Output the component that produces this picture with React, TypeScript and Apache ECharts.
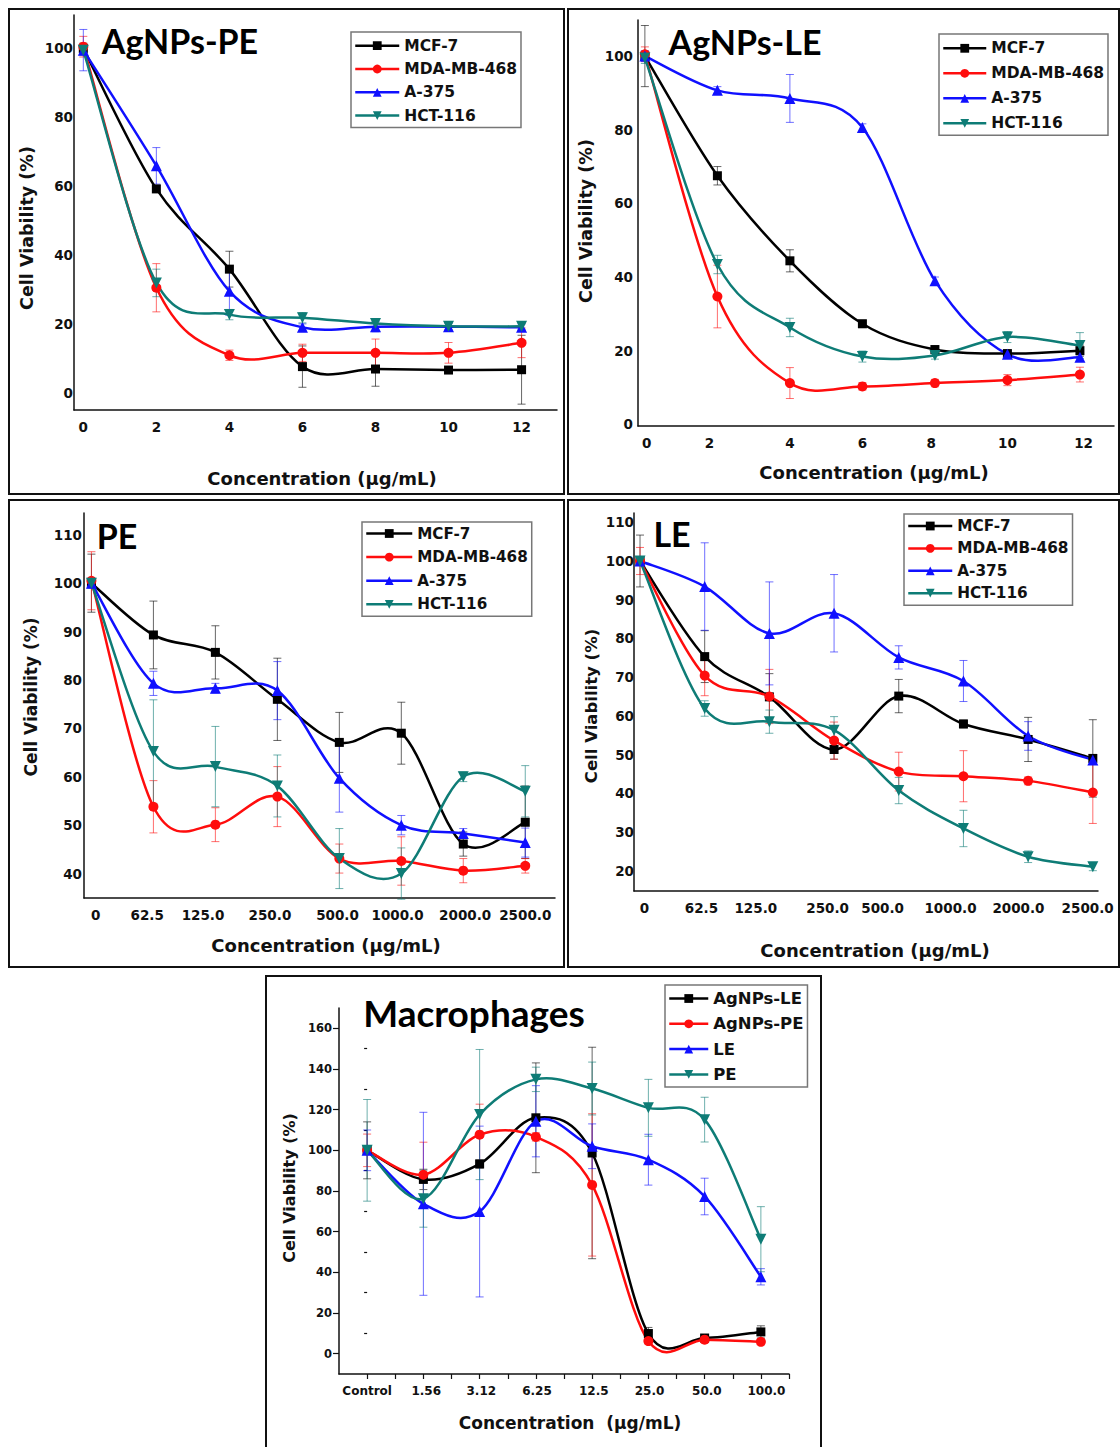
import React, { useEffect, useRef } from "react";
import * as echarts from "echarts";

// ---------------- DATA ----------------
const cellLines = ["MCF-7", "MDA-MB-468", "A-375", "HCT-116"];
const macroNames = ["AgNPs-LE", "AgNPs-PE", "LE", "PE"];

// Panel: AgNPs-PE
const agpeX = [0, 2, 4, 6, 8, 10, 12];
const agpeTicks = [0, 2, 4, 6, 8, 10, 12];
const agpeMcf7 = [100, 59.2, 35.9, 7.6, 6.9, 6.6, 6.7];
const agpeMcf7Err = [1.5, 1, 5.2, 6, 5, 1, 10];
const agpeMda = [100.5, 30.5, 10.9, 11.6, 11.6, 11.6, 14.5];
const agpeMdaErr = [3, 7, 1.5, 2.5, 4, 3, 4.3];
const agpeA375 = [99.5, 65.9, 29.5, 19, 19.2, 19.2, 19];
const agpeA375Err = [6, 5.3, 7, 1, 1.5, 1, 1];
const agpeHct = [99.5, 31.9, 22.7, 21.8, 20.1, 19.3, 19.3];
const agpeHctErr = [1.5, 4, 1.5, 1.5, 1, 1, 1];

// Panel: AgNPs-LE
const agleX = [0, 2, 4, 6, 8, 10, 12];
const agleTicks = [0, 2, 4, 6, 8, 10, 12];
const agleMcf7 = [100, 67.5, 44.4, 27.3, 20.3, 19.2, 20];
const agleMcf7Err = [8.3, 2.5, 3, 1, 1, 1, 1.5];
const agleMda = [100.5, 34.7, 11.2, 10.3, 11.2, 12, 13.5];
const agleMdaErr = [2, 8.5, 4.2, 1, 1, 1.5, 2];
const agleA375 = [100, 90.7, 88.5, 80.6, 39, 19, 18.2];
const agleA375Err = [1.5, 1, 6.5, 1, 1, 1, 1];
const agleHct = [99.5, 43.4, 26.3, 18.4, 18.7, 23.7, 21.4];
const agleHctErr = [1.5, 2.5, 2.5, 1.5, 1, 1.5, 3.5];

// Panel: PE
const extractCats = ["0", "62.5", "125.0", "250.0", "500.0", "1000.0", "2000.0", "2500.0"];
const peMcf7 = [100, 89.3, 85.7, 76, 67.1, 69, 46.1, 50.6];
const peMcf7Err = [6, 7, 5.5, 8.5, 6.2, 6.4, 2.5, 7.5];
const peMda = [100.5, 53.8, 50.1, 55.9, 43.1, 42.6, 40.6, 41.6];
const peMdaErr = [6, 5.4, 3.5, 6.2, 3, 5, 2.5, 1.5];
const peA375 = [100, 79.3, 78.3, 77.8, 59.7, 50, 48.3, 46.4];
const peA375Err = [1, 2.5, 1, 6, 7, 2, 1, 3];
const peHct = [100, 65.2, 62.1, 58.1, 43.1, 40, 60, 57];
const peHctErr = [1, 10.7, 8.3, 6.4, 6.2, 5.3, 1, 5.3];

// Panel: LE
const leMcf7 = [100, 75.3, 64.9, 51.3, 65.1, 57.9, 53.9, 49];
const leMcf7Err = [6.7, 6.7, 6, 2.5, 4.3, 1, 5.7, 10];
const leMda = [100, 70.4, 65, 53.6, 45.6, 44.4, 43.2, 40.2];
const leMdaErr = [3.5, 5.2, 7, 4.8, 5, 6.6, 1, 8];
const leA375 = [100, 93.4, 81.3, 86.5, 75.1, 69, 54.8, 48.6];
const leA375Err = [1, 11.3, 13.3, 10, 3, 5.3, 3.7, 1];
const leHct = [100, 61.9, 58.5, 56.3, 40.7, 30.9, 23.6, 21];
const leHctErr = [1, 2, 3, 3.5, 3.4, 4.7, 1.5, 1];

// Panel: Macrophages
const macroCats = ["Control", "1.56", "3.12", "6.25", "12.5", "25.0", "50.0", "100.0"];
const mAgLe = [100, 85.7, 93.3, 116, 98.7, 9.9, 7.7, 10.7];
const mAgLeErr = [14, 5, 2, 27, 52, 3, 1.5, 3];
const mAgPe = [100, 88, 107.7, 106.6, 83, 6.2, 6.9, 5.8];
const mAgPeErr = [8, 16, 15, 2, 35, 1.5, 1.5, 1.5];
const mLe = [100, 73.7, 69.9, 114.3, 102, 95.4, 77.3, 37.8];
const mLeErr = [10, 45, 42, 17.5, 11, 12.5, 9, 4];
const mPe = [100, 76.2, 117.6, 134.9, 130.4, 120.9, 115.1, 56.3];
const mPeErr = [25, 14, 32, 6, 13, 14, 11, 16];
const macroYTicks = [0, 20, 40, 60, 80, 100, 120, 140, 160];
const macroYMinor = [10, 30, 50, 70, 90, 110, 130, 150];

const idx8 = [0, 1, 2, 3, 4, 5, 6, 7];

// ---------------- STYLE / LAYOUT ----------------
const LABEL_FONT = "'DejaVu Sans', Verdana, sans-serif";
const TITLE_FONT = "Lato, 'Noto Sans', sans-serif";
const COLORS = ["#000000", "#ff0d0d", "#1010ff", "#0e7c76"];
const SYMBOLS = ["rect", "circle", "triangle", "triangle"];
const ROTATE = [0, 0, 0, 180];
const SYM_SIZE = [9, 10, 11, 11];

const panels = [
  {
    title: "AgNPs-PE", names: cellLines, x: agpeX,
    ys: [agpeMcf7, agpeMda, agpeA375, agpeHct], errs: [agpeMcf7Err, agpeMdaErr, agpeA375Err, agpeHctErr],
    xLabelValues: agpeTicks, xFormat: (v: number) => String(Math.round(v)),
  },
  {
    title: "AgNPs-LE", names: cellLines, x: agleX,
    ys: [agleMcf7, agleMda, agleA375, agleHct], errs: [agleMcf7Err, agleMdaErr, agleA375Err, agleHctErr],
    xLabelValues: agleTicks, xFormat: (v: number) => String(Math.round(v)),
  },
  {
    title: "PE", names: cellLines, x: idx8,
    ys: [peMcf7, peMda, peA375, peHct], errs: [peMcf7Err, peMdaErr, peA375Err, peHctErr],
    xLabelValues: idx8, xFormat: (v: number) => extractCats[Math.round(v)],
  },
  {
    title: "LE", names: cellLines, x: idx8,
    ys: [leMcf7, leMda, leA375, leHct], errs: [leMcf7Err, leMdaErr, leA375Err, leHctErr],
    xLabelValues: idx8, xFormat: (v: number) => extractCats[Math.round(v)],
  },
  {
    title: "Macrophages", names: macroNames, x: idx8,
    ys: [mAgLe, mAgPe, mLe, mPe], errs: [mAgLeErr, mAgPeErr, mLeErr, mPeErr],
    xLabelValues: idx8, xFormat: (v: number) => macroCats[Math.round(v)],
  },
];

// label placement offsets (where the printed tick labels sit along the axis)
const layouts: any[] = [
  {
    box: [9, 9, 555, 485], grid: [74, 15, 483, 395], xr: [-0.255, 12.97], yr: [-5, 109.7],
    yTicks: [0, 20, 40, 60, 80, 100], tickFont: 13.5, xMargin: 10, yMargin: 1, xLabelPos: null,
    title: [180, 40, 34], yTitle: [27, 228, 17.5], xTitle: [322, 478, 18],
    legend: [351, 32, 23.3, 15.5, 44, 5.7],
  },
  {
    box: [568, 9, 551, 485], grid: [638, 20, 476, 406], xr: [-0.19, 12.94], yr: [-0.46, 109.8],
    yTicks: [0, 20, 40, 60, 80, 100], tickFont: 13.5, xMargin: 10, yMargin: 5,
    xLabelPos: [0.05, 1.78, 4, 6, 7.9, 10, 12.1],
    title: [745, 41, 34], yTitle: [586, 221, 17.5], xTitle: [874, 472, 18],
    legend: [939, 34, 25, 15.5, 43, 6.3],
  },
  {
    box: [9, 500, 555, 467], grid: [84, 513, 471, 385], xr: [-0.12, 7.48], yr: [34.95, 114.5],
    yTicks: [40, 50, 60, 70, 80, 90, 100, 110], tickFont: 13.5, xMargin: 10, yMargin: 2,
    xLabelPos: [0.07, 0.9, 1.8, 2.88, 3.97, 4.94, 6.03, 7.0],
    title: [117, 535, 34], yTitle: [31, 697, 17], xTitle: [326, 945, 18],
    legend: [362, 522, 23.6, 15.2, 46, 3.5],
  },
  {
    box: [568, 500, 551, 467], grid: [634, 513, 464, 378], xr: [-0.093, 7.08], yr: [14.75, 112.4],
    yTicks: [20, 30, 40, 50, 60, 70, 80, 90, 100, 110], tickFont: 13.5, xMargin: 10, yMargin: 0,
    xLabelPos: [0.07, 0.95, 1.79, 2.9, 3.75, 4.8, 5.85, 6.92],
    title: [672, 533, 34], yTitle: [591, 706, 16.5], xTitle: [875, 950, 18],
    legend: [904, 514, 22.4, 15.3, 44, 4],
  },
  {
    box: [266, 976, 555, 475], grid: [339, 1008, 450, 366], xr: [-0.5, 7.5], yr: [-10, 170],
    yTicks: macroYTicks, tickFont: 11.5, xMargin: 11, yMargin: 7,
    xLabelPos: [0, 1.05, 2.03, 3.02, 4.03, 5.02, 6.04, 7.1],
    title: [474, 1012, 37], yTitle: [289, 1188, 16], xTitle: [570, 1423, 17],
    legend: [665, 985, 24.3, 16.5, 39, 5],
  },
];

function errRender(color: string) {
  return (params: any, api: any) => {
    const x = api.value(0);
    const y = api.value(1);
    const e = api.value(2);
    const top = api.coord([x, y + e]);
    const bot = api.coord([x, y - e]);
    const hw = 4;
    const style = { stroke: color, lineWidth: 1, opacity: 0.6 };
    return {
      type: "group",
      children: [
        { type: "line", shape: { x1: top[0], y1: top[1], x2: bot[0], y2: bot[1] }, style },
        { type: "line", shape: { x1: top[0] - hw, y1: top[1], x2: top[0] + hw, y2: top[1] }, style },
        { type: "line", shape: { x1: bot[0] - hw, y1: bot[1], x2: bot[0] + hw, y2: bot[1] }, style },
      ],
    };
  };
}

// Smooth spline-style connection (Catmull-Rom → cubic Bézier) through the
// series' points, positioned with the axis scales via api.coord.
function curveRender(xs: number[], ys: number[], color: string) {
  return (params: any, api: any) => {
    if (params.dataIndex !== 0) return null;
    const pts = xs.map((xv, i) => api.coord([xv, ys[i]]));
    const n = pts.length;
    const children: any[] = [];
    for (let i = 0; i < n - 1; i++) {
      const p0 = pts[Math.max(0, i - 1)];
      const p1 = pts[i];
      const p2 = pts[i + 1];
      const p3 = pts[Math.min(n - 1, i + 2)];
      children.push({
        type: "bezierCurve",
        shape: {
          x1: p1[0], y1: p1[1], x2: p2[0], y2: p2[1],
          cpx1: p1[0] + (p2[0] - p0[0]) / 6, cpy1: p1[1] + (p2[1] - p0[1]) / 6,
          cpx2: p2[0] - (p3[0] - p1[0]) / 6, cpy2: p2[1] - (p3[1] - p1[1]) / 6,
        },
        style: { stroke: color, lineWidth: 2.5, fill: null, lineCap: "round" },
      });
    }
    return { type: "group", children };
  };
}

function buildOption() {
  const grid: any[] = [];
  const xAxis: any[] = [];
  const yAxis: any[] = [];
  const legend: any[] = [];
  const series: any[] = [];
  const graphic: any[] = [];

  panels.forEach((p, pi) => {
    const L = layouts[pi];
    const isMacro = pi === 4;
    grid.push({
      left: L.grid[0], top: L.grid[1], width: L.grid[2], height: L.grid[3],
      containLabel: false, outerBoundsMode: "none",
    });
    xAxis.push({
      type: "value", gridIndex: pi, min: L.xr[0], max: L.xr[1],
      axisLine: { show: true, onZero: false, lineStyle: { color: "#111", width: 1.5 } },
      axisTick: isMacro
        ? { show: true, length: 5, inside: false, customValues: [0, 0.5, 1, 1.5, 2, 2.5, 3, 3.5, 4, 4.5, 5, 5.5, 6, 6.5, 7, 7.5], lineStyle: { color: "#111", width: 1.2 } }
        : { show: false },
      splitLine: { show: false },
      axisLabel: {
        customValues: L.xLabelPos || p.xLabelValues, formatter: p.xFormat, margin: L.xMargin,
        fontFamily: LABEL_FONT, fontWeight: "bold", fontSize: isMacro ? 12 : L.tickFont, color: "#111",
      },
    });
    yAxis.push({
      type: "value", gridIndex: pi, min: L.yr[0], max: L.yr[1],
      axisLine: { show: true, onZero: false, lineStyle: { color: "#111", width: 1.5 } },
      axisTick: isMacro
        ? { show: true, length: 6, customValues: macroYTicks, lineStyle: { color: "#111", width: 1.2 } }
        : { show: false },
      splitLine: { show: false },
      axisLabel: {
        customValues: L.yTicks, margin: L.yMargin,
        fontFamily: LABEL_FONT, fontWeight: "bold", fontSize: L.tickFont, color: "#111",
      },
    });

    p.names.forEach((name, si) => {
      series.push({
        type: "custom", name: "err-" + pi + "-" + si, xAxisIndex: pi, yAxisIndex: pi,
        renderItem: errRender(COLORS[si]), z: 1, silent: true,
        encode: { x: 0, y: 1 },
        data: p.x.map((xv, i) => [xv, p.ys[si][i], p.errs[si][i]]),
      });
    });
    p.names.forEach((name, si) => {
      series.push({
        type: "custom", name: "curve-" + pi + "-" + si, xAxisIndex: pi, yAxisIndex: pi,
        renderItem: curveRender(p.x, p.ys[si], COLORS[si]), z: 2, silent: true,
        encode: { x: 0, y: 1 },
        data: p.x.map((xv, i) => [xv, p.ys[si][i]]),
      });
    });
    p.names.forEach((name, si) => {
      series.push({
        type: "line", name, xAxisIndex: pi, yAxisIndex: pi, z: 3,
        symbol: SYMBOLS[si], symbolSize: SYM_SIZE[si], symbolRotate: ROTATE[si], showSymbol: true,
        itemStyle: { color: COLORS[si] },
        lineStyle: { color: COLORS[si], width: 2.5, opacity: 0 },
        data: p.x.map((xv, i) => [xv, p.ys[si][i]]),
      });
    });

    const [lx, ly, gap, fs, lw, pt] = L.legend;
    const lh = 16;
    legend.push({
      orient: "vertical", left: lx, top: ly, data: p.names,
      itemWidth: lw, itemHeight: 11, itemGap: gap - lh,
      padding: [pt, 4, 4, 3],
      borderColor: "#777", borderWidth: 1.5, backgroundColor: "#fff",
      selectedMode: false,
      lineStyle: { width: 2.5, opacity: 1 },
      textStyle: { fontFamily: LABEL_FONT, fontWeight: "bold", fontSize: fs, lineHeight: lh, color: "#111" },
    });

    graphic.push({
      type: "rect", z: 0,
      shape: { x: L.box[0], y: L.box[1], width: L.box[2], height: L.box[3] },
      style: { fill: "none", stroke: "#111", lineWidth: 2 },
    });
    graphic.push({
      type: "text", x: L.title[0], y: L.title[1], z: 10,
      style: {
        text: p.title, fontFamily: TITLE_FONT, fontWeight: "bold", fontSize: L.title[2],
        fill: "#000", align: "center", verticalAlign: "middle",
      },
    });
    graphic.push({
      type: "text", x: L.yTitle[0], y: L.yTitle[1], rotation: Math.PI / 2, z: 10,
      style: {
        text: "Cell Viability (%)", fontFamily: LABEL_FONT, fontWeight: "bold", fontSize: L.yTitle[2],
        fill: "#111", align: "center", verticalAlign: "middle",
      },
    });
    graphic.push({
      type: "text", x: L.xTitle[0], y: L.xTitle[1], z: 10,
      style: {
        text: isMacro ? "Concentration  (μg/mL)" : "Concentration (μg/mL)",
        fontFamily: LABEL_FONT, fontWeight: "bold", fontSize: L.xTitle[2],
        fill: "#111", align: "center", verticalAlign: "middle",
      },
    });
  });

  // minor ticks on the macrophage y axis
  yAxis.push({
    type: "value", gridIndex: 4, position: "left", offset: 0, min: layouts[4].yr[0], max: layouts[4].yr[1],
    axisLine: { show: false },
    axisTick: { show: true, length: 3, customValues: macroYMinor, lineStyle: { color: "#111", width: 1.2 } },
    axisLabel: { show: false },
    splitLine: { show: false },
  });

  return { animation: false, backgroundColor: "#ffffff", grid, xAxis, yAxis, legend, series, graphic };
}

export default function App() {
  const ref = useRef<HTMLDivElement>(null);
  useEffect(() => {
    if (!ref.current) return;
    const chart = echarts.init(ref.current, undefined, { renderer: "svg" });
    chart.setOption(buildOption() as any);
    return () => chart.dispose();
  }, []);
  return (
    <div
      ref={ref}
      style={{ position: "absolute", left: 0, top: 0, width: 1120, height: 1447, background: "#fff" }}
    />
  );
}
